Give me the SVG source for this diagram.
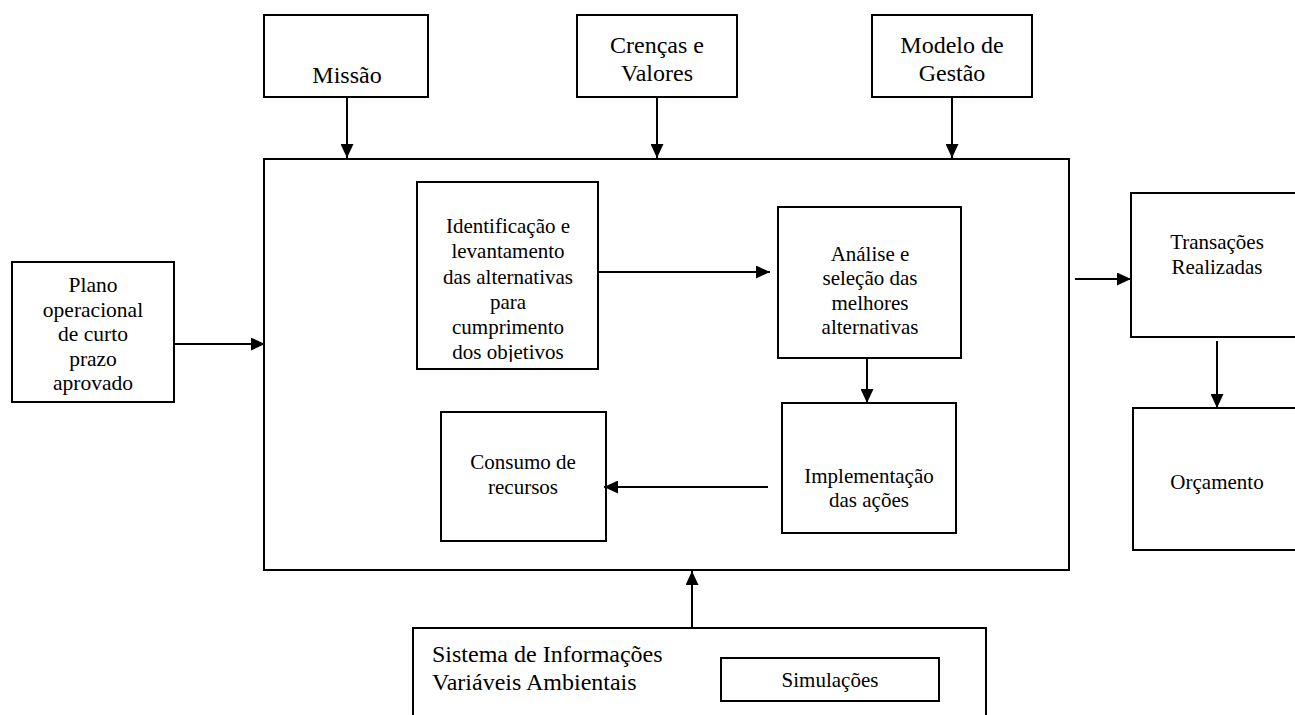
<svg xmlns="http://www.w3.org/2000/svg" width="1295" height="715" viewBox="0 0 1295 715">
  <style>
    .box { fill: #fff; stroke: #000; stroke-width: 2; }
    .edge { fill: none; stroke: #000; stroke-width: 2; marker-end: url(#arrow); }
    text { font-family: "Liberation Serif", "Times New Roman", serif; fill: #000; }
    .top { font-size: 24px; text-anchor: middle; }
    .mid { font-size: 21px; text-anchor: middle; }
    .side { font-size: 21.5px; text-anchor: middle; }
    .left { font-size: 24px; }
  </style>
  <defs>
    <marker id="arrow" markerUnits="userSpaceOnUse" markerWidth="15" markerHeight="13" refX="14" refY="6.5" orient="auto">
      <path d="M0,0 L14,6.5 L0,13 Z" fill="#000"/>
    </marker>
    <clipPath id="identClip">
      <rect x="417" y="182" width="181" height="180"/>
    </clipPath>
  </defs>

  <rect width="1295" height="715" fill="#fff"/>

  <!-- main process frame -->
  <g id="main">
    <rect class="box" x="264" y="159" width="805" height="411"/>
  </g>

  <g id="missao">
    <rect class="box" x="264" y="15" width="164" height="82"/>
    <text class="top" x="347" y="83">Missão</text>
  </g>

  <g id="crencas">
    <rect class="box" x="577" y="15" width="160" height="82"/>
    <text class="top" x="657" y="53">Crenças e</text>
    <text class="top" x="657" y="81">Valores</text>
  </g>

  <g id="modelo">
    <rect class="box" x="872" y="15" width="160" height="82"/>
    <text class="top" x="952" y="53">Modelo de</text>
    <text class="top" x="952" y="81">Gestão</text>
  </g>

  <g id="plano">
    <rect class="box" x="12" y="262" width="162" height="140"/>
    <text class="side" x="93" y="292">Plano</text>
    <text class="side" x="93" y="317">operacional</text>
    <text class="side" x="93" y="341">de curto</text>
    <text class="side" x="93" y="366">prazo</text>
    <text class="side" x="93" y="390">aprovado</text>
  </g>

  <g id="identificacao">
    <rect class="box" x="417" y="182" width="181" height="187"/>
    <g clip-path="url(#identClip)">
      <text class="mid" x="508" y="233">Identificação e</text>
      <text class="mid" x="508" y="258">levantamento</text>
      <text class="mid" x="508" y="284">das alternativas</text>
      <text class="mid" x="508" y="309">para</text>
      <text class="mid" x="508" y="334">cumprimento</text>
      <text class="mid" x="508" y="359">dos objetivos</text>
    </g>
  </g>

  <g id="analise">
    <rect class="box" x="778" y="207" width="183" height="151"/>
    <text class="mid" x="870" y="261">Análise e</text>
    <text class="mid" x="870" y="285">seleção das</text>
    <text class="mid" x="870" y="310">melhores</text>
    <text class="mid" x="870" y="334">alternativas</text>
  </g>

  <g id="implementacao">
    <rect class="box" x="782" y="403" width="174" height="130"/>
    <text class="mid" x="869" y="483">Implementação</text>
    <text class="mid" x="869" y="507">das ações</text>
  </g>

  <g id="consumo">
    <rect class="box" x="441" y="412" width="165" height="129"/>
    <text class="mid" x="523" y="469">Consumo de</text>
    <text class="mid" x="523" y="494">recursos</text>
  </g>

  <g id="transacoes">
    <rect class="box" x="1131" y="193" width="175" height="144"/>
    <text class="mid" x="1217" y="249">Transações</text>
    <text class="mid" x="1217" y="274">Realizadas</text>
  </g>

  <g id="orcamento">
    <rect class="box" x="1133" y="408" width="175" height="142"/>
    <text class="mid" x="1217" y="489">Orçamento</text>
  </g>

  <g id="sistema">
    <rect class="box" x="413" y="628" width="573" height="100"/>
    <text class="left" x="432" y="662">Sistema de Informações</text>
    <text class="left" x="432" y="690">Variáveis Ambientais</text>
  </g>

  <g id="simulacoes">
    <rect class="box" x="721" y="658" width="218" height="43"/>
    <text class="mid" x="830" y="687">Simulações</text>
  </g>

  <g id="connectors">
    <path class="edge" d="M347,97 V158"/>
    <path class="edge" d="M657,97 V158"/>
    <path class="edge" d="M952,97 V158"/>
    <path class="edge" d="M174,344 H265"/>
    <path class="edge" d="M598,272 H770"/>
    <path class="edge" d="M867,358 V403"/>
    <path class="edge" d="M768,487 H604"/>
    <path class="edge" d="M1075,279 H1131"/>
    <path class="edge" d="M1217,341 V408"/>
    <path class="edge" d="M692,628 V571"/>
  </g>
</svg>
